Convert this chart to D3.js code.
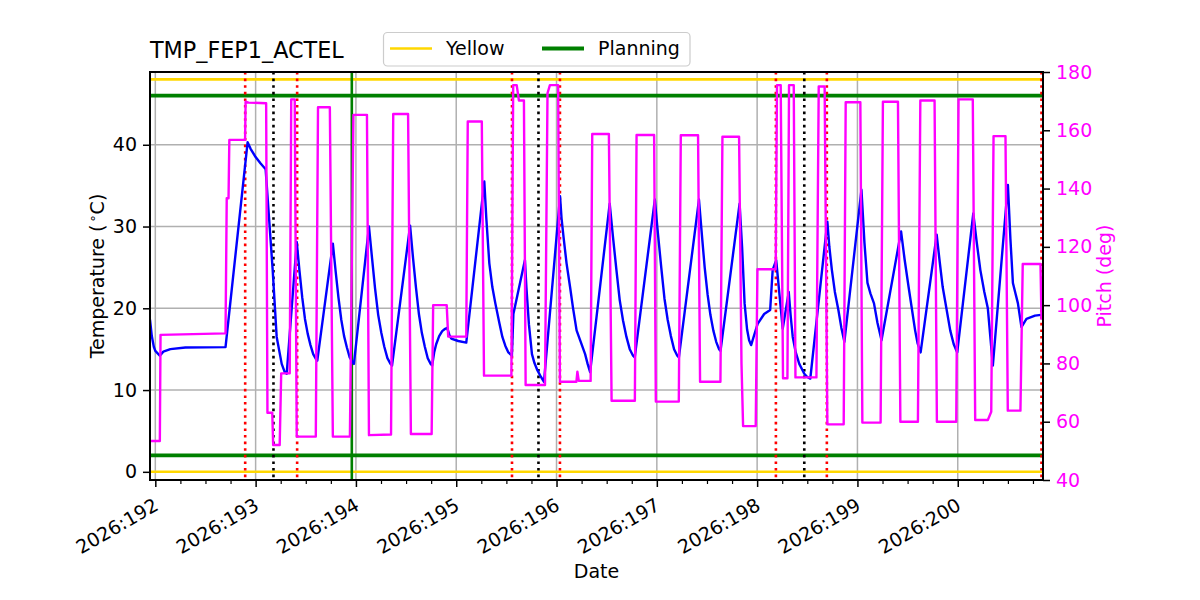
<!DOCTYPE html>
<html><head><meta charset="utf-8">
<script src="https://cdn.jsdelivr.net/npm/d3@7"></script>
<style>body{margin:0;background:#fff} svg{display:block} text{font-family:"DejaVu Sans",sans-serif}</style>
</head><body><svg id="c" width="1200" height="600"></svg>
<script>
const title = "TMP_FEP1_ACTEL";
const dayTicks = [192,193,194,195,196,197,198,199,200];
const tempTicks = [0,10,20,30,40];
const pitchTicks = [40,60,80,100,120,140,160,180];
const yellowLimits = [0,48];
const planningLimits = [2,46];
const redEvents = [192.896,193.414,195.556,196.034,198.187,198.695,200.835];
const blackEvents = [193.178,195.82,198.47];
const greenEvents = [193.959];
const legendItems = [["Yellow","#FFD700"],["Planning","#008000"]];

// [day of year, temperature degC]
const temperature = [
[191.947,18.6],[191.965,16.6],[191.985,15.3],[192.00,14.8],[192.045,14.2],[192.08,14.7],[192.15,15.0],[192.30,15.2],[192.70,15.25],
[192.92,40.3],[192.95,39.5],[193.00,38.5],[193.05,37.7],[193.10,37.0],[193.17,24.7],[193.21,16.5],[193.26,13.2],[193.29,12.2],[193.31,12.0],
[193.41,28.1],[193.437,24.6],[193.465,21.3],[193.492,18.7],[193.519,16.9],[193.547,15.5],[193.574,14.4],[193.601,13.8],[193.615,13.6],
[193.77,27.9],[193.798,24.5],[193.826,21.3],[193.854,18.6],[193.882,16.6],[193.91,15.2],[193.938,14.0],[193.966,13.4],[193.98,13.2],
[194.13,30.0],[194.161,26.1],[194.191,22.4],[194.222,19.2],[194.253,17.0],[194.283,15.3],[194.314,13.9],[194.345,13.2],[194.36,13.0],
[194.54,30.1],[194.569,26.2],[194.599,22.5],[194.628,19.3],[194.657,17.0],[194.687,15.3],[194.716,13.9],[194.745,13.2],[194.76,13.0],
[194.78,14.6],[194.80,15.6],[194.83,16.6],[194.86,17.2],[194.89,17.5],[194.91,17.6],[194.93,16.8],[194.95,16.3],[195.02,16.0],[195.10,15.8],
[195.28,35.5],[195.30,31.0],[195.33,25.5],[195.36,22.6],[195.39,20.6],[195.43,18.2],[195.46,16.5],[195.49,15.4],[195.52,14.6],[195.555,14.2],
[195.57,19.3],[195.685,25.9],[195.70,22.5],[195.725,18.0],[195.755,14.4],[195.78,13.3],[195.81,12.4],[195.845,11.6],[195.875,11.0],
[196.035,33.7],[196.05,31.0],[196.07,28.7],[196.10,25.5],[196.135,22.6],[196.165,20.0],[196.20,17.3],[196.235,16.1],[196.285,14.4],[196.31,13.2],[196.335,12.2],
[196.53,32.8],[196.563,28.7],[196.597,24.7],[196.63,21.0],[196.663,18.5],[196.697,16.5],[196.73,15.0],[196.763,14.2],[196.78,14.0],
[196.98,33.3],[197.012,29.0],[197.044,25.0],[197.076,21.2],[197.108,18.6],[197.14,16.6],[197.172,15.0],[197.204,14.2],[197.22,14.0],
[197.42,33.3],[197.449,29.0],[197.477,25.0],[197.506,21.7],[197.534,19.2],[197.563,17.3],[197.592,15.9],[197.62,15.0],[197.635,14.8],
[197.825,32.8],[197.85,27.5],[197.875,20.6],[197.90,17.4],[197.92,16.1],[197.94,15.5],
[198.005,18.1],[198.07,19.3],[198.13,19.8],[198.155,24.7],[198.19,25.9],[198.255,17.5],[198.315,22.0],
[198.335,19.0],[198.355,16.5],[198.385,14.6],[198.42,13.2],[198.47,12.0],[198.50,11.6],[198.53,11.4],
[198.70,30.6],[198.72,27.5],[198.745,24.7],[198.775,22.0],[198.81,19.8],[198.84,17.6],[198.87,15.9],
[199.04,34.5],[199.07,28.0],[199.10,23.1],[199.13,21.8],[199.165,20.6],[199.20,18.2],[199.24,16.1],
[199.435,29.4],[199.47,26.0],[199.51,22.6],[199.575,17.3],[199.60,15.7],[199.63,14.6],
[199.79,29.0],[199.82,25.7],[199.85,22.6],[199.925,17.3],[199.96,15.6],[199.995,14.6],
[200.155,31.6],[200.19,28.0],[200.225,24.7],[200.265,22.0],[200.30,20.0],[200.35,13.0],
[200.50,35.1],[200.525,28.5],[200.55,23.1],[200.60,20.6],[200.635,17.7],[200.685,18.7],[200.77,19.1],[200.83,19.2]
];

// [day of year, pitch deg]
const pitch = [
[191.95,53.4],[192.045,53.4],[192.052,89.8],[192.70,90.3],[192.712,136.7],[192.73,136.7],[192.738,156.7],[192.895,156.7],
[192.90,169.8],[192.93,169.5],[193.105,169.3],[193.118,63.1],[193.166,63.1],[193.175,52.0],[193.24,52.0],[193.255,76.6],[193.34,76.6],
[193.355,170.6],[193.39,170.6],[193.41,54.9],[193.60,54.9],[193.622,167.9],[193.74,167.9],[193.77,54.9],[193.94,54.9],
[193.975,165.3],[194.11,165.3],[194.13,55.4],[194.35,55.6],[194.372,165.6],[194.52,165.6],[194.548,55.8],[194.755,55.8],
[194.77,100.0],[194.905,100.0],[194.92,89.2],[195.10,89.2],[195.115,163.0],[195.255,163.0],[195.277,75.8],[195.55,75.8],
[195.568,175.5],[195.603,175.5],[195.625,170.2],[195.675,170.2],[195.692,72.6],[195.885,72.6],[195.91,172.7],[195.934,175.5],
[196.016,175.5],[196.034,73.7],[196.198,73.7],[196.208,77.2],[196.222,74.0],[196.34,74.0],[196.356,158.7],[196.522,158.7],
[196.549,67.2],[196.781,67.2],[196.798,158.4],[196.973,158.4],[196.99,66.9],[197.219,66.9],[197.239,158.3],[197.411,158.3],
[197.431,73.7],[197.634,73.7],[197.654,157.8],[197.82,157.8],[197.844,80.0],[197.86,58.5],[197.986,58.5],[198.003,112.3],
[198.185,112.3],[198.198,175.5],[198.235,175.5],[198.258,74.9],[198.302,74.9],[198.318,175.5],[198.365,175.5],[198.382,75.2],
[198.591,75.2],[198.614,175.0],[198.673,175.0],[198.70,59.1],[198.863,59.1],[198.883,169.6],[199.029,169.6],[199.049,59.7],
[199.231,59.7],[199.254,169.8],[199.404,169.8],[199.428,60.0],[199.603,60.0],[199.627,170.2],[199.769,170.2],[199.792,60.0],
[199.985,60.0],[200.008,170.6],[200.15,170.6],[200.174,60.6],[200.30,60.6],[200.334,63.4],[200.357,158.0],[200.476,158.0],
[200.499,63.8],[200.625,63.8],[200.648,114.1],[200.825,114.1],[200.835,95.0]
];

const L=150, R=1043, T=72, B=480;
const svg = d3.select("#c");
const x = d3.scaleLinear().domain([191.947,200.85]).range([L,R]);
const yT = d3.scaleLinear().domain([-1.0,48.9]).range([B,T]);
const yP = d3.scaleLinear().domain([40,180]).range([B,T]);

svg.append("defs").append("clipPath").attr("id","clip").append("rect")
  .attr("x",L).attr("y",T).attr("width",R-L).attr("height",B-T);

const plot = svg.append("g").attr("clip-path","url(#clip)");
plot.selectAll(".gx").data(dayTicks).join("line")
  .attr("x1",d=>x(d)).attr("x2",d=>x(d)).attr("y1",T).attr("y2",B)
  .attr("stroke","#b0b0b0").attr("stroke-width",1.5);
plot.selectAll(".gy").data(tempTicks).join("line")
  .attr("x1",L).attr("x2",R).attr("y1",d=>yT(d)).attr("y2",d=>yT(d))
  .attr("stroke","#b0b0b0").attr("stroke-width",1.5);
plot.selectAll(".yl").data(yellowLimits).join("line")
  .attr("x1",L).attr("x2",R).attr("y1",d=>yT(d)).attr("y2",d=>yT(d))
  .attr("stroke","#FFD700").attr("stroke-width",2.6);
plot.selectAll(".pl").data(planningLimits).join("line")
  .attr("x1",L).attr("x2",R).attr("y1",d=>yT(d)).attr("y2",d=>yT(d))
  .attr("stroke","#008000").attr("stroke-width",3.8);
plot.selectAll(".ge").data(greenEvents).join("line")
  .attr("x1",d=>x(d)).attr("x2",d=>x(d)).attr("y1",T).attr("y2",B)
  .attr("stroke","#008000").attr("stroke-width",2.6);
plot.selectAll(".re").data(redEvents).join("line")
  .attr("x1",d=>x(d)).attr("x2",d=>x(d)).attr("y1",T).attr("y2",B)
  .attr("stroke","#ff0000").attr("stroke-width",2.6).attr("stroke-dasharray","2.6,4");
plot.selectAll(".be").data(blackEvents).join("line")
  .attr("x1",d=>x(d)).attr("x2",d=>x(d)).attr("y1",T).attr("y2",B)
  .attr("stroke","#000").attr("stroke-width",2.6).attr("stroke-dasharray","2.6,4");
plot.append("path").datum(temperature)
  .attr("d",d3.line().x(d=>x(d[0])).y(d=>yT(d[1])))
  .attr("fill","none").attr("stroke","#0000ff").attr("stroke-width",2.4).attr("stroke-linejoin","round");
plot.append("path").datum(pitch)
  .attr("d",d3.line().x(d=>x(d[0])).y(d=>yP(d[1])))
  .attr("fill","none").attr("stroke","#ff00ff").attr("stroke-width",2.4).attr("stroke-linejoin","round");

const fs = 19;
const xAxis = d3.axisBottom(x).tickValues(dayTicks).tickSize(7).tickPadding(6).tickFormat(d=>"2026:"+d);
const minor = d3.range(192,200.9,0.25).filter(d=>d%1!==0 && d<=200.85);
svg.append("g").attr("transform",`translate(0,${B})`)
  .call(d3.axisBottom(x).tickValues(minor).tickSize(4).tickFormat(""))
  .call(g=>g.select(".domain").remove())
  .call(g=>g.selectAll("line").attr("stroke","#000").attr("stroke-width",1.2));
const gx = svg.append("g").attr("transform",`translate(0,${B})`).call(xAxis);
gx.select(".domain").remove();
gx.selectAll("line").attr("stroke","#000").attr("stroke-width",1.5);
gx.selectAll("text").attr("font-size",fs).attr("fill","#000")
  .attr("text-anchor","end").attr("dy",null).attr("y",null)
  .attr("transform","translate(4,29) rotate(-30)");

const gl = svg.append("g").attr("transform",`translate(${L},0)`)
  .call(d3.axisLeft(yT).tickValues(tempTicks).tickSize(7).tickPadding(6));
gl.select(".domain").remove();
gl.selectAll("line").attr("stroke","#000").attr("stroke-width",1.5);
gl.selectAll("text").attr("font-size",fs).attr("fill","#000");

const gr = svg.append("g").attr("transform",`translate(${R},0)`)
  .call(d3.axisRight(yP).tickValues(pitchTicks).tickSize(7).tickPadding(6));
gr.select(".domain").remove();
gr.selectAll("line").attr("stroke","#000").attr("stroke-width",1.5);
gr.selectAll("text").attr("font-size",fs).attr("fill","#ff00ff");

svg.append("rect").attr("x",L).attr("y",T).attr("width",R-L).attr("height",B-T)
  .attr("fill","none").attr("stroke","#000").attr("stroke-width",2);

svg.append("text").attr("x",L).attr("y",57.5).attr("font-size",22.3).text(title);
svg.append("text").attr("x",(L+R)/2).attr("y",578).attr("text-anchor","middle").attr("font-size",fs).text("Date");
const tl = svg.append("text").attr("transform",`translate(104,${(T+B)/2}) rotate(-90)`)
  .attr("text-anchor","middle").attr("font-size",fs);
tl.append("tspan").text("Temperature (");
tl.append("tspan").attr("font-size",13).attr("dy",-7).attr("dx",2).text("∘");
tl.append("tspan").attr("dy",7).text("C)");
svg.append("text").attr("transform",`translate(1111,${(T+B)/2}) rotate(-90)`)
  .attr("text-anchor","middle").attr("font-size",fs).attr("fill","#ff00ff").text("Pitch (deg)");

const lg = svg.append("g");
lg.append("rect").attr("x",383.5).attr("y",32.5).attr("width",306.5).attr("height",33.5).attr("rx",4)
  .attr("fill","#fff").attr("fill-opacity",0.8).attr("stroke","#cccccc").attr("stroke-width",1.2);
const lx = [390,542];
legendItems.forEach((it,i)=>{
  lg.append("line").attr("x1",lx[i]).attr("x2",lx[i]+42).attr("y1",48.5).attr("y2",48.5)
    .attr("stroke",it[1]).attr("stroke-width",i===0?2.6:3.8);
  lg.append("text").attr("x",lx[i]+56).attr("y",55).attr("font-size",fs).text(it[0]);
});
</script></body></html>
